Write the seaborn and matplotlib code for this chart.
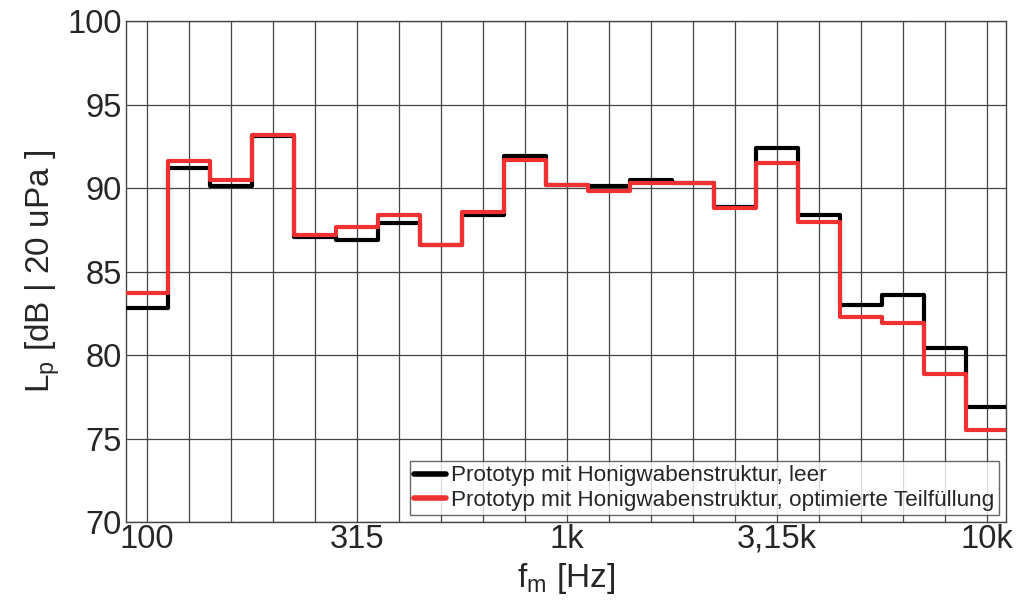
import numpy as np
import pandas as pd
import seaborn as sns
import matplotlib
matplotlib.use("Agg")
import matplotlib.pyplot as plt

# third-octave band centres (tick labels only at every 5th band)
bands = ["100", "125", "160", "200", "250", "315", "400", "500", "630", "800", "1k",
         "1,25k", "1,6k", "2k", "2,5k", "3,15k", "4k", "5k", "6,3k", "8k", "10k"]
tick_labels = ["100", "315", "1k", "3,15k", "10k"]
tick_pos = [0, 5, 10, 15, 20]

leer = [82.8, 91.2, 90.1, 93.1, 87.1, 86.9, 87.9, 86.6, 88.4, 91.9, 90.2,
        90.1, 90.5, 90.3, 88.9, 92.4, 88.4, 83.0, 83.6, 80.4, 76.9]
teilfuellung = [83.7, 91.6, 90.5, 93.2, 87.2, 87.7, 88.4, 86.6, 88.6, 91.7, 90.2,
                89.8, 90.3, 90.3, 88.8, 91.5, 88.0, 82.3, 81.9, 78.9, 75.5]

names = ["Prototyp mit Honigwabenstruktur, leer",
         "Prototyp mit Honigwabenstruktur, optimierte Teilfüllung"]
colors = ["black", "#ef3131"]

sns.set_style("white")
plt.rcParams["font.family"] = ["Liberation Sans", "DejaVu Sans"]
plt.rcParams["mathtext.default"] = "regular"

fig = plt.figure(figsize=(10.18, 6.05), dpi=100)
ax = fig.add_axes([0.1235, 0.137, 0.8645, 0.828])

# band edges so each value covers its whole band (steps-post)
n = len(bands)
edges = np.arange(n + 1) - 0.5
for vals, name, col in zip([leer, teilfuellung], names, colors):
    df = pd.DataFrame({"x": edges, "y": list(vals) + [vals[-1]]})
    sns.lineplot(data=df, x="x", y="y", ax=ax, color=col, lw=3,
                 drawstyle="steps-post", label=name, zorder=3)

ax.set_xlim(-0.5, 20.45)
ax.set_ylim(70, 100)
ax.set_yticks(np.arange(70, 101, 5))
ax.set_xticks(tick_pos)
ax.set_xticklabels(tick_labels)
ax.set_xticks(np.arange(n), minor=True)
ax.grid(True, which="both", axis="x", color="#444444", lw=0.9)
ax.grid(True, which="major", axis="y", color="#444444", lw=0.9)
ax.set_axisbelow(True)
ax.tick_params(axis="both", which="both", length=0, labelsize=23.5, pad=1)
ax.tick_params(axis="y", pad=3)
for sp in ax.spines.values():
    sp.set_color("#444444")
    sp.set_linewidth(1.0)

ax.set_xlabel("$f_m$ [Hz]", fontsize=24, labelpad=5)
ax.set_ylabel("$L_p$ [dB | 20 uPa ]", fontsize=24, labelpad=4)

leg = ax.legend(loc="lower right", fontsize=16.2, frameon=True, fancybox=False,
                handlelength=1.4, handletextpad=0.25, borderpad=0.2,
                labelspacing=0.15, borderaxespad=0.3)
leg.get_frame().set_edgecolor("#444444")
leg.get_frame().set_linewidth(1.0)
for line in leg.get_lines():
    line.set_linewidth(4)

fig.savefig("out.png", dpi=100)
